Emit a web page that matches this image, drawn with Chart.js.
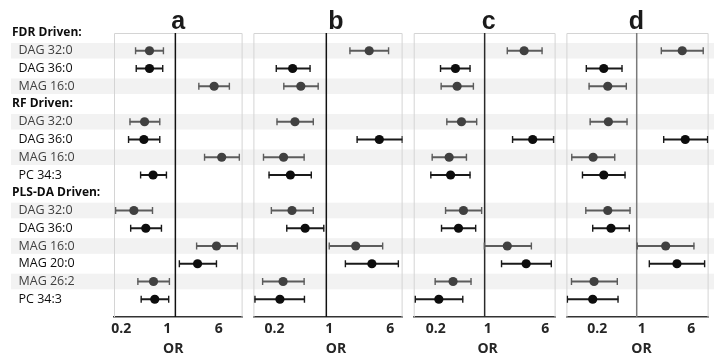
<!DOCTYPE html>
<html>
<head>
<meta charset="utf-8">
<script src="https://cdn.jsdelivr.net/npm/chart.js@4.4.0/dist/chart.umd.min.js"></script>
<style>
  body { margin: 0; background: #fff; }
  #wrap { position: relative; width: 714px; height: 359px; }
  .panel { position: absolute; top: 0; height: 359px; }
</style>
</head>
<body>
<div id="wrap">
  <div class="panel" style="left:0;width:248px"><canvas id="chart_a" width="248" height="359"></canvas></div>
  <div class="panel" style="left:248px;width:160px"><canvas id="chart_b" width="160" height="359"></canvas></div>
  <div class="panel" style="left:408px;width:153px"><canvas id="chart_c" width="153" height="359"></canvas></div>
  <div class="panel" style="left:561px;width:153px"><canvas id="chart_d" width="153" height="359"></canvas></div>
</div>
<script>
// rows, top to bottom (headers included)
var rowLabels = ["FDR Driven:", "DAG 32:0", "DAG 36:0", "MAG 16:0",
                 "RF Driven:", "DAG 32:0", "DAG 36:0", "MAG 16:0", "PC 34:3",
                 "PLS-DA Driven:", "DAG 32:0", "DAG 36:0", "MAG 16:0", "MAG 20:0", "MAG 26:2", "PC 34:3"];
var headerRows = [0, 4, 9];
var stripedRows = [1, 3, 5, 7, 10, 12, 14];
var markerRows = [1, 2, 3, 5, 6, 7, 8, 10, 11, 12, 13, 14, 15];
var xTicks = [0.2, 1, 6];

// odds ratios + CI per panel (same order as markerRows)
var orA   = [0.405, 0.405, 3.87, 0.341, 0.333, 5.04, 0.459, 0.235, 0.356, 4.20, 2.17, 0.466, 0.487];
var lowA  = [0.249, 0.255, 2.27, 0.205, 0.195, 2.77, 0.297, 0.124, 0.210, 2.10, 1.149, 0.270, 0.303];
var highA = [0.659, 0.643, 6.59, 0.580, 0.580, 9.33, 0.732, 0.450, 0.615, 8.70, 4.20, 0.812, 0.792];

var orB   = [3.52, 0.372, 0.473, 0.398, 4.74, 0.285, 0.348, 0.365, 0.537, 2.37, 3.81, 0.281, 0.256];
var lowB  = [2.00, 0.230, 0.287, 0.235, 2.47, 0.158, 0.186, 0.199, 0.313, 1.09, 1.75, 0.154, 0.123];
var highB = [6.22, 0.620, 0.787, 0.682, 9.30, 0.521, 0.643, 0.682, 0.928, 5.23, 8.29, 0.521, 0.526];

var orC   = [3.41, 0.404, 0.425, 0.487, 4.45, 0.332, 0.347, 0.518, 0.444, 2.02, 3.63, 0.375, 0.241];
var lowC  = [2.02, 0.254, 0.259, 0.309, 2.38, 0.196, 0.188, 0.297, 0.262, 0.991, 1.69, 0.215, 0.116];
var highC = [5.95, 0.635, 0.705, 0.781, 8.51, 0.568, 0.635, 0.911, 0.757, 4.27, 7.93, 0.655, 0.507];

var orD   = [5.21, 0.303, 0.350, 0.358, 5.81, 0.206, 0.303, 0.350, 0.394, 2.86, 4.30, 0.213, 0.203];
var lowD  = [2.44, 0.161, 0.178, 0.185, 2.66, 0.095, 0.140, 0.158, 0.203, 1.02, 1.58, 0.094, 0.081];
var highD = [11.15, 0.587, 0.686, 0.704, 13.07, 0.451, 0.655, 0.785, 0.765, 7.96, 11.73, 0.495, 0.508];

Chart.defaults.font.family = "'Open Sans', sans-serif";

function isStriped(r) { return stripedRows.indexOf(r) >= 0; }

var panelPlugin = {
  id: 'panel',
  beforeDraw: function (chart, args, opts) {
    var ctx = chart.ctx, y = chart.scales.y;
    var left = opts.stripeLeft || 0;
    ctx.save();
    ctx.fillStyle = '#f2f2f2';
    stripedRows.forEach(function (r) {
      var t = y.getPixelForValue(r - 0.44), b = y.getPixelForValue(r + 0.44);
      ctx.fillRect(left, t, chart.width - left, b - t);
    });
    ctx.restore();
  },
  beforeDatasetsDraw: function (chart, args, opts) {
    var ctx = chart.ctx, a = chart.chartArea;
    var mid = (a.left + a.right) / 2;
    ctx.save();
    ctx.strokeStyle = '#d4d4d4';
    ctx.lineWidth = 1;
    ctx.beginPath();
    ctx.moveTo(a.left + 0.5, a.bottom);
    ctx.lineTo(a.left + 0.5, a.top + 0.5);
    ctx.lineTo(a.right - 0.5, a.top + 0.5);
    ctx.lineTo(a.right - 0.5, a.bottom);
    ctx.stroke();
    ctx.fillStyle = '#1a1a1a';
    ctx.font = 'bold 25px "Liberation Sans", Arial, sans-serif';
    ctx.textAlign = 'center';
    ctx.textBaseline = 'alphabetic';
    ctx.fillText(opts.letter, mid + opts.letterShift, 28.5);
    // axis title
    ctx.fillStyle = '#262626';
    ctx.font = "bold 14px 'Open Sans', sans-serif";
    ctx.textBaseline = 'middle';
    ctx.fillText('OR', mid + opts.orShift, 349);
    ctx.restore();
  }
};

function makePanel(id, letter, or, low, high, cfg) {
  var whiskers = markerRows.map(function (r, i) { return { x: [low[i], high[i]], y: r }; });
  var caps = [], capColors = [];
  markerRows.forEach(function (r, i) {
    caps.push({ x: low[i], y: r }, { x: high[i], y: r });
    var c = isStriped(r) ? '#5c5c5c' : '#1a1a1a';
    capColors.push(c, c);
  });
  var points = markerRows.map(function (r, i) { return { x: or[i], y: r }; });

  var first = letter === 'a';
  new Chart(document.getElementById(id), {
    type: 'scatter',
    data: {
      datasets: [
        { showLine: true, data: [{ x: 1, y: 0 }, { x: 1, y: 16 }], borderColor: cfg.refColor,
          borderWidth: 1.5, pointRadius: 0, order: 3 },
        { type: 'bar', indexAxis: 'y', data: whiskers, barThickness: 1.4, borderWidth: 0,
          backgroundColor: markerRows.map(function (r) { return isStriped(r) ? '#5c5c5c' : '#1a1a1a'; }), order: 2 },
        { data: caps, pointStyle: 'line', rotation: 90, pointRadius: 3.5, borderWidth: 1.4,
          borderColor: capColors, order: 1 },
        { data: points, pointRadius: 4.6, borderWidth: 0,
          backgroundColor: markerRows.map(function (r) { return isStriped(r) ? '#404040' : '#0d0d0d'; }), order: 0 }
      ]
    },
    options: {
      responsive: false,
      animation: false,
      devicePixelRatio: 1,
      layout: { padding: { left: cfg.padL, right: cfg.padR, top: 33, bottom: 0 } },
      plugins: {
        legend: { display: false },
        tooltip: { enabled: false },
        panel: { letter: letter, stripeLeft: first ? 11 : 0, letterShift: cfg.letterShift, orShift: cfg.orShift }
      },
      scales: {
        x: {
          type: 'logarithmic', min: cfg.min, max: cfg.max, beginAtZero: false,
          afterBuildTicks: function (s) { s.ticks = xTicks.map(function (v) { return { value: v }; }); },
          afterFit: function (s) { s.height = 42; },
          grid: { display: false, drawTicks: false },
          border: { display: true, color: '#333', width: 1.5 },
          ticks: { autoSkip: false, maxRotation: 0, padding: 4, labelOffset: cfg.shift, color: '#262626',
                   font: { weight: 'bold', size: 14 }, callback: function (v) { return String(v); } },
          title: { display: false }
        },
        y: {
          type: 'linear', min: 0, max: 16, reverse: true, offset: false, display: first,
          afterBuildTicks: function (s) { s.ticks = rowLabels.map(function (l, i) { return { value: i }; }); },
          afterFit: function (s) { s.width = first ? 102 : 0; },
          grid: { display: false, drawTicks: false },
          border: { display: false },
          ticks: {
            crossAlign: 'far', padding: 0, autoSkip: false,
            callback: function (v) { return headerRows.indexOf(v) >= 0 ? rowLabels[v] : '  ' + rowLabels[v]; },
            font: function (c) { return headerRows.indexOf(c.index) >= 0 ? { weight: 'bold', size: 12 } : { size: 12.5 }; },
            color: function (c) { return isStriped(c.index) ? '#404040' : '#0d0d0d'; }
          }
        }
      }
    },
    plugins: [panelPlugin]
  });
}

makePanel('chart_a', 'a', orA, lowA, highA, { min: 0.1173, max: 10.46, padL: 12, padR: 4.7, shift: -8, refColor: '#111', letterShift: 0, orShift: -5 });
makePanel('chart_b', 'b', orB, lowB, highB, { min: 0.1175, max: 9.39, padL: 4, padR: 4, shift: 3, refColor: '#111', letterShift: 8, orShift: 8 });
makePanel('chart_c', 'c', orC, lowC, highC, { min: 0.1104, max: 9.06, padL: 5.7, padR: 4.7, shift: 3, refColor: '#2a2a2a', letterShift: 4, orShift: 3 });
makePanel('chart_d', 'd', orD, lowD, highD, { min: 0.0782, max: 13.55, padL: 5.3, padR: 5.3, shift: 5, refColor: '#7a7a7a', letterShift: -1, orShift: 4 });
</script>
</body>
</html>
